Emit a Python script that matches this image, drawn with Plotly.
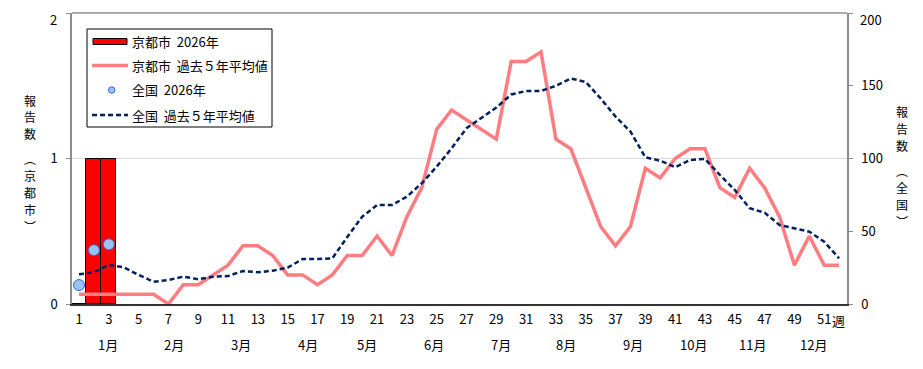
import plotly.graph_objects as go

weeks = list(range(1, 53))

kyoto_2026_weeks = [1, 2, 3]
kyoto_2026 = [0, 1, 1]

kyoto_avg = [0.067, 0.067, 0.067, 0.067, 0.067, 0.067, 0.0, 0.133, 0.133, 0.2,
             0.267, 0.4, 0.4, 0.333, 0.2, 0.2, 0.133, 0.2, 0.333, 0.333,
             0.467, 0.333, 0.6, 0.8, 1.2, 1.333, 1.267, 1.2, 1.133, 1.667,
             1.667, 1.733, 1.133, 1.067, 0.8, 0.533, 0.4, 0.533, 0.933, 0.867,
             1.0, 1.067, 1.067, 0.8, 0.733, 0.933, 0.8, 0.6, 0.267, 0.467,
             0.267, 0.267]

nation_2026_weeks = [1, 2, 3]
nation_2026 = [13, 37, 41]

nation_avg = [20.4, 21.8, 26.8, 25.2, 20.0, 15.3, 16.5, 18.8, 17.0, 18.8,
              19.2, 22.7, 21.8, 22.9, 25.0, 30.9, 30.9, 31.4, 46.0, 60.0,
              68.0, 68.0, 73.8, 83.0, 94.4, 107.0, 120.8, 127.6, 135.0, 144.0,
              146.4, 146.4, 150.0, 155.0, 152.6, 141.3, 128.8, 118.5, 100.8, 98.5,
              94.0, 99.0, 99.7, 88.7, 78.4, 65.8, 62.8, 54.3, 52.0, 49.7,
              42.8, 31.4]

xtick_vals = list(range(1, 52, 2))
xtick_text = [str(v) for v in xtick_vals]

y1_ticks = [0, 1, 2]
y1_text = ["0", "1", "2"]
y2_ticks = [0, 50, 100, 150, 200]
y2_text = ["0", "50", "100", "150", "200"]

months = ["1月", "2月", "3月", "4月", "5月", "6月", "7月", "8月", "9月", "10月", "11月", "12月"]
month_pos = [2.95, 7.4, 11.9, 16.35, 20.3, 24.8, 29.3, 33.7, 38.2, 42.2, 46.2, 50.3]

legend_labels = ["京都市  2026年", "京都市  過去５年平均値", "全国  2026年", "全国  過去５年平均値"]

left_title = ["報", "告", "数", "︵", "京", "都", "市", "︶"]
right_title = ["報", "告", "数", "︵", "全", "国", "︶"]

FONT = "Noto Sans CJK JP"
PINK = "#FF7C80"
NAVY = "#002060"

fig = go.Figure()
fig.add_trace(go.Bar(x=kyoto_2026_weeks, y=kyoto_2026, width=1.0,
                     marker=dict(color="#FF0000", line=dict(color="#000000", width=1)),
                     showlegend=False))
fig.add_trace(go.Scatter(x=weeks, y=kyoto_avg, mode="lines",
                         line=dict(color=PINK, width=3.5), showlegend=False))
fig.add_trace(go.Scatter(x=weeks, y=nation_avg, mode="lines", yaxis="y2",
                         line=dict(color=NAVY, width=2.5, dash="5px,3px"), showlegend=False))
fig.add_trace(go.Scatter(x=nation_2026_weeks, y=nation_2026, mode="markers", yaxis="y2",
                         marker=dict(color="#99C2F5", size=11, line=dict(color="#3366CC", width=1)),
                         showlegend=False))

# page coordinates (the page has an 8px body margin)
OFF = 8
L, R, T, B = 72, 847, 13, 304
W, H = 923 - OFF, 369 - OFF
pw, ph = R - L, B - T


def px(xp):
    return (xp - L) / pw


def py(yp):
    return (B - yp) / ph


shapes = []
annotations = []

shapes.append(dict(type="line", xref="paper", yref="paper", x0=0, x1=1, y0=1, y1=1,
                   line=dict(color="#8C8C8C", width=1.5)))

shapes.append(dict(type="rect", xref="paper", yref="paper",
                   x0=px(87), x1=px(272), y0=py(127), y1=py(29),
                   line=dict(color="#000000", width=1), fillcolor="white", layer="above"))
rows = [41.5, 65.5, 90, 115]
shapes.append(dict(type="rect", xref="paper", yref="paper",
                   x0=px(93), x1=px(127), y0=py(44.5), y1=py(38.5),
                   line=dict(color="#000000", width=1), fillcolor="#FF0000", layer="above"))
shapes.append(dict(type="line", xref="paper", yref="paper",
                   x0=px(92), x1=px(128), y0=py(rows[1]), y1=py(rows[1]),
                   line=dict(color=PINK, width=3.5), layer="above"))
shapes.append(dict(type="circle", xref="paper", yref="paper",
                   x0=px(108.5), x1=px(115), y0=py(93.3), y1=py(86.8),
                   line=dict(color="#3366CC", width=1), fillcolor="#99C2F5", layer="above"))
shapes.append(dict(type="line", xref="paper", yref="paper",
                   x0=px(92), x1=px(128), y0=py(rows[3]), y1=py(rows[3]),
                   line=dict(color=NAVY, width=2.5, dash="5px,3px"), layer="above"))
for lab, r in zip(legend_labels, rows):
    annotations.append(dict(text=lab, xref="paper", yref="paper", x=px(130), y=py(r),
                            xanchor="left", yanchor="middle", showarrow=False,
                            font=dict(size=13, color="#000000", family=FONT)))

for m, p in zip(months, month_pos):
    annotations.append(dict(text=m, xref="x", yref="paper", x=p, y=py(344),
                            xanchor="center", yanchor="middle", showarrow=False,
                            font=dict(size=13, color="#000000", family=FONT)))
annotations.append(dict(text="週", xref="paper", yref="paper", x=px(838), y=py(320),
                        xanchor="center", yanchor="middle", showarrow=False,
                        font=dict(size=13, color="#000000", family=FONT)))

# top tick labels drawn as annotations kept inside the page
annotations.append(dict(text=y1_text[-1], xref="paper", yref="paper", x=px(59), y=py(OFF),
                        xanchor="right", yanchor="top", showarrow=False,
                        font=dict(size=13, color="#000000", family=FONT)))
annotations.append(dict(text=y2_text[-1], xref="paper", yref="paper", x=px(858), y=py(OFF),
                        xanchor="left", yanchor="top", showarrow=False,
                        font=dict(size=13, color="#000000", family=FONT)))

left_y = [100, 117, 134, 158, 175, 192, 209, 226]
right_y = [111, 128, 145, 170, 187, 204, 221]
for ch, yy in zip(left_title, left_y):
    annotations.append(dict(text=ch, xref="paper", yref="paper", x=px(30), y=py(yy),
                            xanchor="center", yanchor="middle", showarrow=False,
                            font=dict(size=12, color="#000000", family=FONT)))
for ch, yy in zip(right_title, right_y):
    annotations.append(dict(text=ch, xref="paper", yref="paper", x=px(902), y=py(yy),
                            xanchor="center", yanchor="middle", showarrow=False,
                            font=dict(size=12, color="#000000", family=FONT)))

fig.update_layout(
    width=W, height=H,
    margin=dict(l=L - OFF, r=923 - R, t=T - OFF, b=369 - B, pad=0, autoexpand=False),
    paper_bgcolor="white", plot_bgcolor="white",
    font=dict(family=FONT, size=13, color="#000000"),
    bargap=0,
    showlegend=False,
    xaxis=dict(range=[0.53, 52.53], tickmode="array", tickvals=xtick_vals, ticktext=xtick_text,
               showgrid=False, zeroline=False, showline=True, linecolor="#333333", linewidth=1.5,
               ticks="", ticklabelstandoff=3, automargin=False, ticklabeloverflow="allow",
               tickfont=dict(size=13, family=FONT)),
    yaxis=dict(range=[0, 2], tickvals=y1_ticks, ticktext=y1_text[:-1] + [""],
               showgrid=True, gridcolor="#D9D9D9", gridwidth=1, zeroline=False,
               showline=True, linecolor="#8C8C8C", linewidth=1.5, automargin=False,
               ticks="outside", ticklen=4, tickcolor="#8C8C8C", ticklabelstandoff=6,
               ticklabeloverflow="allow", tickfont=dict(size=13, family=FONT)),
    yaxis2=dict(range=[0, 200], tickvals=y2_ticks, ticktext=y2_text[:-1] + [""],
                overlaying="y", side="right",
                showgrid=False, zeroline=False, showline=True, linecolor="#8C8C8C", linewidth=1.5,
                ticks="outside", ticklen=4, tickcolor="#8C8C8C", ticklabelstandoff=6, automargin=False,
                ticklabeloverflow="allow", tickfont=dict(size=13, family=FONT)),
    shapes=shapes,
    annotations=annotations,
)

fig.write_html("out.html")
